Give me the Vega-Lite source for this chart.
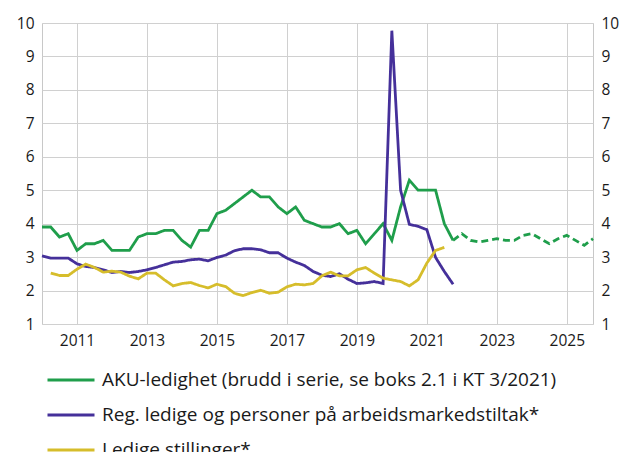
{
  "$schema": "https://vega.github.io/schema/vega-lite/v6.json",
  "width": 551,
  "height": 301,
  "autosize": {"type": "none"},
  "padding": {"left": 42, "top": 23, "right": 35, "bottom": 128},
  "background": "white",
  "config": {
    "font": "Open Sans",
    "view": {"stroke": "#c8c8c8", "strokeWidth": 1},
    "axis": {"labelFont": "Open Sans", "labelFontSize": 15.5, "labelColor": "#1a1a1a", "ticks": false, "domain": false, "gridColor": "#d0d0d0", "gridWidth": 1, "title": null},
    "legend": {"labelFont": "Open Sans"}
  },
  "data": {"values": [
    {"t": 2010.0, "s": "A", "v": 3.9, "p": "F"}, {"t": 2010.25, "s": "A", "v": 3.9, "p": "F"}, {"t": 2010.5, "s": "A", "v": 3.6, "p": "F"}, {"t": 2010.75, "s": "A", "v": 3.7, "p": "F"},
    {"t": 2011.0, "s": "A", "v": 3.2, "p": "F"}, {"t": 2011.25, "s": "A", "v": 3.4, "p": "F"}, {"t": 2011.5, "s": "A", "v": 3.4, "p": "F"}, {"t": 2011.75, "s": "A", "v": 3.5, "p": "F"},
    {"t": 2012.0, "s": "A", "v": 3.2, "p": "F"}, {"t": 2012.25, "s": "A", "v": 3.2, "p": "F"}, {"t": 2012.5, "s": "A", "v": 3.2, "p": "F"}, {"t": 2012.75, "s": "A", "v": 3.6, "p": "F"},
    {"t": 2013.0, "s": "A", "v": 3.7, "p": "F"}, {"t": 2013.25, "s": "A", "v": 3.7, "p": "F"}, {"t": 2013.5, "s": "A", "v": 3.8, "p": "F"}, {"t": 2013.75, "s": "A", "v": 3.8, "p": "F"},
    {"t": 2014.0, "s": "A", "v": 3.5, "p": "F"}, {"t": 2014.25, "s": "A", "v": 3.3, "p": "F"}, {"t": 2014.5, "s": "A", "v": 3.8, "p": "F"}, {"t": 2014.75, "s": "A", "v": 3.8, "p": "F"},
    {"t": 2015.0, "s": "A", "v": 4.3, "p": "F"}, {"t": 2015.25, "s": "A", "v": 4.4, "p": "F"}, {"t": 2015.5, "s": "A", "v": 4.6, "p": "F"}, {"t": 2015.75, "s": "A", "v": 4.8, "p": "F"},
    {"t": 2016.0, "s": "A", "v": 5.0, "p": "F"}, {"t": 2016.25, "s": "A", "v": 4.8, "p": "F"}, {"t": 2016.5, "s": "A", "v": 4.8, "p": "F"}, {"t": 2016.75, "s": "A", "v": 4.5, "p": "F"},
    {"t": 2017.0, "s": "A", "v": 4.3, "p": "F"}, {"t": 2017.25, "s": "A", "v": 4.5, "p": "F"}, {"t": 2017.5, "s": "A", "v": 4.1, "p": "F"}, {"t": 2017.75, "s": "A", "v": 4.0, "p": "F"},
    {"t": 2018.0, "s": "A", "v": 3.9, "p": "F"}, {"t": 2018.25, "s": "A", "v": 3.9, "p": "F"}, {"t": 2018.5, "s": "A", "v": 4.0, "p": "F"}, {"t": 2018.75, "s": "A", "v": 3.7, "p": "F"},
    {"t": 2019.0, "s": "A", "v": 3.8, "p": "F"}, {"t": 2019.25, "s": "A", "v": 3.4, "p": "F"}, {"t": 2019.5, "s": "A", "v": 3.7, "p": "F"}, {"t": 2019.75, "s": "A", "v": 4.0, "p": "F"},
    {"t": 2020.0, "s": "A", "v": 3.5, "p": "F"}, {"t": 2020.25, "s": "A", "v": 4.5, "p": "F"}, {"t": 2020.5, "s": "A", "v": 5.3, "p": "F"}, {"t": 2020.75, "s": "A", "v": 5.0, "p": "F"},
    {"t": 2021.0, "s": "A", "v": 5.0, "p": "F"}, {"t": 2021.25, "s": "A", "v": 5.0, "p": "F"}, {"t": 2021.5, "s": "A", "v": 4.0, "p": "F"}, {"t": 2021.75, "s": "A", "v": 3.5, "p": "F"},
    {"t": 2021.75, "s": "A", "v": 3.5, "p": "P"},
    {"t": 2022.0, "s": "A", "v": 3.7, "p": "P"}, {"t": 2022.25, "s": "A", "v": 3.5, "p": "P"}, {"t": 2022.5, "s": "A", "v": 3.45, "p": "P"}, {"t": 2022.75, "s": "A", "v": 3.5, "p": "P"},
    {"t": 2023.0, "s": "A", "v": 3.55, "p": "P"}, {"t": 2023.25, "s": "A", "v": 3.5, "p": "P"}, {"t": 2023.5, "s": "A", "v": 3.5, "p": "P"}, {"t": 2023.75, "s": "A", "v": 3.65, "p": "P"},
    {"t": 2024.0, "s": "A", "v": 3.7, "p": "P"}, {"t": 2024.25, "s": "A", "v": 3.55, "p": "P"}, {"t": 2024.5, "s": "A", "v": 3.4, "p": "P"}, {"t": 2024.75, "s": "A", "v": 3.55, "p": "P"},
    {"t": 2025.0, "s": "A", "v": 3.65, "p": "P"}, {"t": 2025.25, "s": "A", "v": 3.5, "p": "P"}, {"t": 2025.5, "s": "A", "v": 3.35, "p": "P"}, {"t": 2025.75, "s": "A", "v": 3.55, "p": "P"},

    {"t": 2010.0, "s": "R", "v": 3.04, "p": "F"}, {"t": 2010.25, "s": "R", "v": 2.97, "p": "F"}, {"t": 2010.5, "s": "R", "v": 2.97, "p": "F"}, {"t": 2010.75, "s": "R", "v": 2.97, "p": "F"},
    {"t": 2011.0, "s": "R", "v": 2.8, "p": "F"}, {"t": 2011.25, "s": "R", "v": 2.72, "p": "F"}, {"t": 2011.5, "s": "R", "v": 2.69, "p": "F"}, {"t": 2011.75, "s": "R", "v": 2.62, "p": "F"},
    {"t": 2012.0, "s": "R", "v": 2.54, "p": "F"}, {"t": 2012.25, "s": "R", "v": 2.57, "p": "F"}, {"t": 2012.5, "s": "R", "v": 2.54, "p": "F"}, {"t": 2012.75, "s": "R", "v": 2.57, "p": "F"},
    {"t": 2013.0, "s": "R", "v": 2.62, "p": "F"}, {"t": 2013.25, "s": "R", "v": 2.69, "p": "F"}, {"t": 2013.5, "s": "R", "v": 2.77, "p": "F"}, {"t": 2013.75, "s": "R", "v": 2.85, "p": "F"},
    {"t": 2014.0, "s": "R", "v": 2.87, "p": "F"}, {"t": 2014.25, "s": "R", "v": 2.92, "p": "F"}, {"t": 2014.5, "s": "R", "v": 2.94, "p": "F"}, {"t": 2014.75, "s": "R", "v": 2.89, "p": "F"},
    {"t": 2015.0, "s": "R", "v": 2.99, "p": "F"}, {"t": 2015.25, "s": "R", "v": 3.06, "p": "F"}, {"t": 2015.5, "s": "R", "v": 3.19, "p": "F"}, {"t": 2015.75, "s": "R", "v": 3.25, "p": "F"},
    {"t": 2016.0, "s": "R", "v": 3.25, "p": "F"}, {"t": 2016.25, "s": "R", "v": 3.22, "p": "F"}, {"t": 2016.5, "s": "R", "v": 3.13, "p": "F"}, {"t": 2016.75, "s": "R", "v": 3.13, "p": "F"},
    {"t": 2017.0, "s": "R", "v": 2.97, "p": "F"}, {"t": 2017.25, "s": "R", "v": 2.85, "p": "F"}, {"t": 2017.5, "s": "R", "v": 2.75, "p": "F"}, {"t": 2017.75, "s": "R", "v": 2.57, "p": "F"},
    {"t": 2018.0, "s": "R", "v": 2.46, "p": "F"}, {"t": 2018.25, "s": "R", "v": 2.42, "p": "F"}, {"t": 2018.5, "s": "R", "v": 2.5, "p": "F"}, {"t": 2018.75, "s": "R", "v": 2.34, "p": "F"},
    {"t": 2019.0, "s": "R", "v": 2.21, "p": "F"}, {"t": 2019.25, "s": "R", "v": 2.23, "p": "F"}, {"t": 2019.5, "s": "R", "v": 2.27, "p": "F"}, {"t": 2019.75, "s": "R", "v": 2.21, "p": "F"},
    {"t": 2020.0, "s": "R", "v": 9.77, "p": "F"}, {"t": 2020.25, "s": "R", "v": 5.0, "p": "F"}, {"t": 2020.5, "s": "R", "v": 3.98, "p": "F"}, {"t": 2020.75, "s": "R", "v": 3.92, "p": "F"},
    {"t": 2021.0, "s": "R", "v": 3.82, "p": "F"}, {"t": 2021.25, "s": "R", "v": 2.99, "p": "F"}, {"t": 2021.5, "s": "R", "v": 2.57, "p": "F"}, {"t": 2021.75, "s": "R", "v": 2.19, "p": "F"},

    {"t": 2010.25, "s": "L", "v": 2.52, "p": "F"}, {"t": 2010.5, "s": "L", "v": 2.45, "p": "F"}, {"t": 2010.75, "s": "L", "v": 2.45, "p": "F"},
    {"t": 2011.0, "s": "L", "v": 2.64, "p": "F"}, {"t": 2011.25, "s": "L", "v": 2.79, "p": "F"}, {"t": 2011.5, "s": "L", "v": 2.69, "p": "F"}, {"t": 2011.75, "s": "L", "v": 2.55, "p": "F"},
    {"t": 2012.0, "s": "L", "v": 2.58, "p": "F"}, {"t": 2012.25, "s": "L", "v": 2.55, "p": "F"}, {"t": 2012.5, "s": "L", "v": 2.43, "p": "F"}, {"t": 2012.75, "s": "L", "v": 2.35, "p": "F"},
    {"t": 2013.0, "s": "L", "v": 2.52, "p": "F"}, {"t": 2013.25, "s": "L", "v": 2.52, "p": "F"}, {"t": 2013.5, "s": "L", "v": 2.32, "p": "F"}, {"t": 2013.75, "s": "L", "v": 2.14, "p": "F"},
    {"t": 2014.0, "s": "L", "v": 2.21, "p": "F"}, {"t": 2014.25, "s": "L", "v": 2.24, "p": "F"}, {"t": 2014.5, "s": "L", "v": 2.15, "p": "F"}, {"t": 2014.75, "s": "L", "v": 2.08, "p": "F"},
    {"t": 2015.0, "s": "L", "v": 2.19, "p": "F"}, {"t": 2015.25, "s": "L", "v": 2.12, "p": "F"}, {"t": 2015.5, "s": "L", "v": 1.92, "p": "F"}, {"t": 2015.75, "s": "L", "v": 1.85, "p": "F"},
    {"t": 2016.0, "s": "L", "v": 1.94, "p": "F"}, {"t": 2016.25, "s": "L", "v": 2.01, "p": "F"}, {"t": 2016.5, "s": "L", "v": 1.92, "p": "F"}, {"t": 2016.75, "s": "L", "v": 1.95, "p": "F"},
    {"t": 2017.0, "s": "L", "v": 2.11, "p": "F"}, {"t": 2017.25, "s": "L", "v": 2.19, "p": "F"}, {"t": 2017.5, "s": "L", "v": 2.17, "p": "F"}, {"t": 2017.75, "s": "L", "v": 2.21, "p": "F"},
    {"t": 2018.0, "s": "L", "v": 2.44, "p": "F"}, {"t": 2018.25, "s": "L", "v": 2.55, "p": "F"}, {"t": 2018.5, "s": "L", "v": 2.44, "p": "F"}, {"t": 2018.75, "s": "L", "v": 2.44, "p": "F"},
    {"t": 2019.0, "s": "L", "v": 2.62, "p": "F"}, {"t": 2019.25, "s": "L", "v": 2.69, "p": "F"}, {"t": 2019.5, "s": "L", "v": 2.52, "p": "F"}, {"t": 2019.75, "s": "L", "v": 2.37, "p": "F"},
    {"t": 2020.0, "s": "L", "v": 2.32, "p": "F"}, {"t": 2020.25, "s": "L", "v": 2.27, "p": "F"}, {"t": 2020.5, "s": "L", "v": 2.14, "p": "F"}, {"t": 2020.75, "s": "L", "v": 2.32, "p": "F"},
    {"t": 2021.0, "s": "L", "v": 2.82, "p": "F"}, {"t": 2021.25, "s": "L", "v": 3.2, "p": "F"}, {"t": 2021.5, "s": "L", "v": 3.29, "p": "F"}
  ]},
  "encoding": {
    "x": {"field": "t", "type": "quantitative",
      "scale": {"domain": [2010, 2025.75], "nice": false, "zero": false},
      "axis": {"values": [2011, 2013, 2015, 2017, 2019, 2021, 2023, 2025], "format": "d", "labelPadding": 9, "title": null}},
    "color": {"field": "s", "type": "nominal",
      "scale": {"domain": ["A", "R", "L"], "range": ["#1f9e4b", "#45309a", "#d6bd2b"]},
      "legend": {"orient": "none", "legendX": 4, "legendY": 332, "direction": "vertical", "columns": 1,
        "title": null, "symbolType": "stroke", "symbolSize": 2209, "symbolStrokeWidth": 3,
        "labelFontSize": 19, "labelColor": "#1a1a1a", "labelOffset": 6, "labelLimit": 600, "rowPadding": 0, "padding": 0,
        "labelExpr": "datum.value == 'A' ? 'AKU-ledighet (brudd i serie, se boks 2.1 i KT 3/2021)' : datum.value == 'R' ? 'Reg. ledige og personer på arbeidsmarkedstiltak*' : 'Ledige stillinger*'"}},
    "strokeDash": {"field": "p", "type": "nominal", "scale": {"domain": ["F", "P"], "range": [[1, 0], [7, 4]]}, "legend": null}
  },
  "layer": [
    {
      "mark": {"type": "line", "strokeWidth": 2.8},
      "encoding": {
        "y": {"field": "v", "type": "quantitative",
          "scale": {"domain": [1, 10], "nice": false, "zero": false},
          "axis": {"values": [1, 2, 3, 4, 5, 6, 7, 8, 9, 10], "labelPadding": 8, "title": null, "orient": "left"}}
      }
    },
    {
      "mark": {"type": "line", "strokeWidth": 2.8, "opacity": 0},
      "encoding": {
        "y": {"field": "v", "type": "quantitative",
          "scale": {"domain": [1, 10], "nice": false, "zero": false},
          "axis": {"values": [1, 2, 3, 4, 5, 6, 7, 8, 9, 10], "labelPadding": 8, "title": null, "orient": "right", "grid": false, "labelAlign": "left"}}
      }
    }
  ],
  "resolve": {"scale": {"y": "independent"}}
}
